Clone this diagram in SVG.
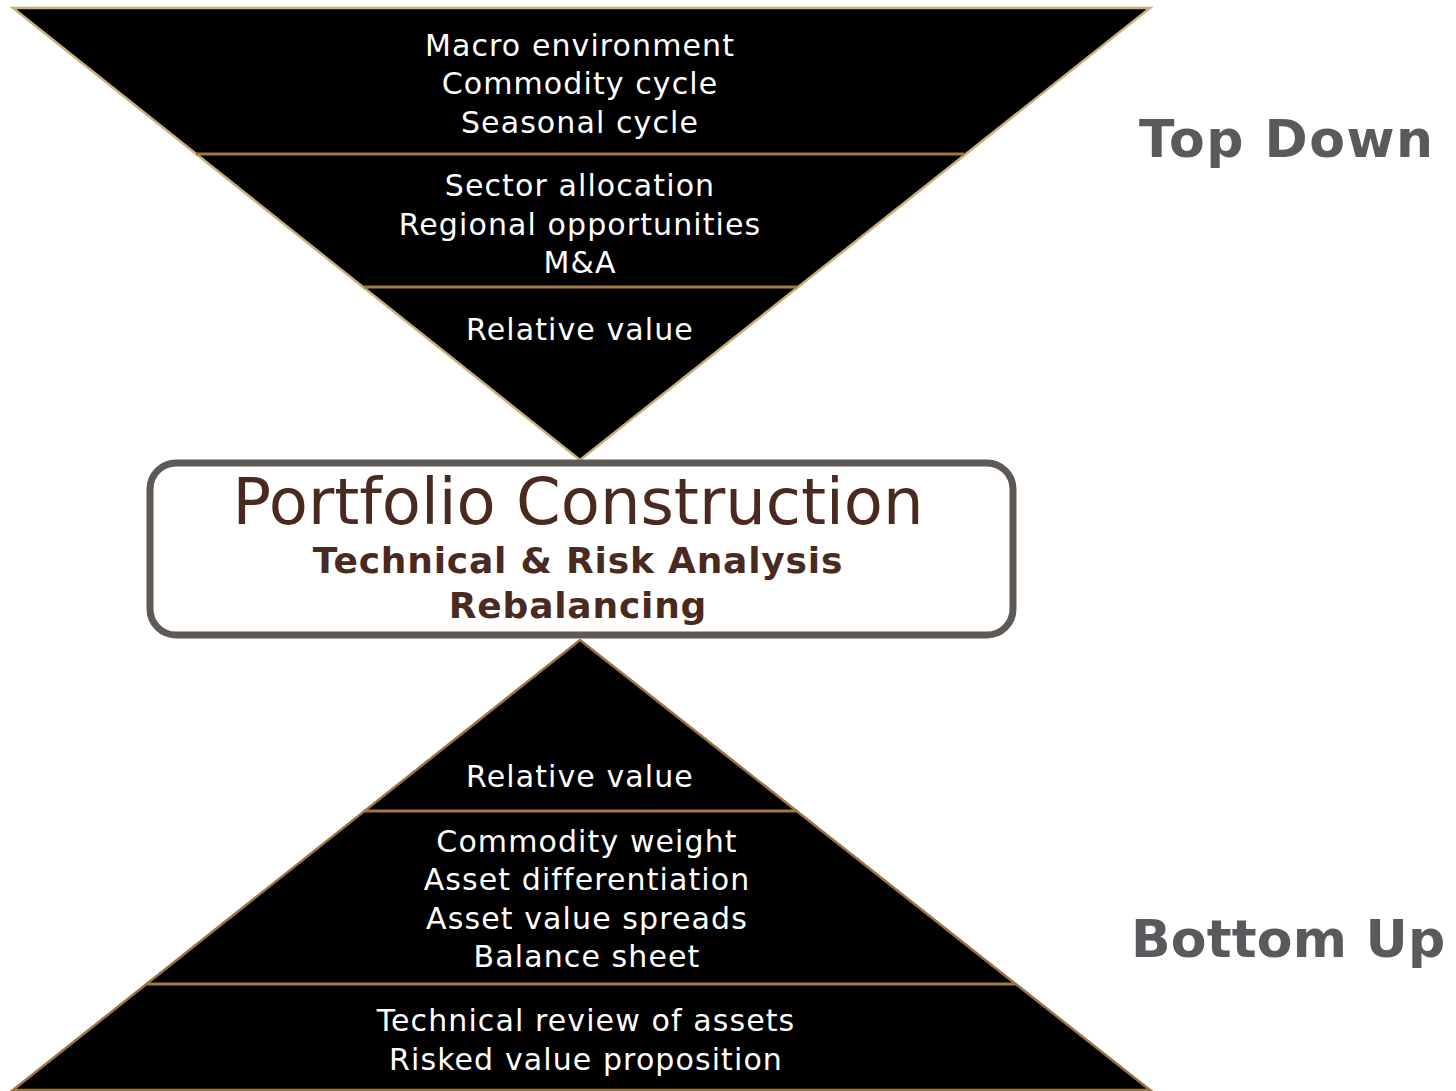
<svg xmlns="http://www.w3.org/2000/svg" width="1456" height="1091" viewBox="0 0 1456 1091">
  <style>
    .tri-top { fill: #000; stroke: #c8b07c; stroke-width: 2.5; }
    .tri-bot { fill: #000; stroke: #9a7442; stroke-width: 2.5; }
    .div { stroke: #a07843; stroke-width: 3; }
    .lbl { font-family: "DejaVu Sans", Verdana, sans-serif; font-size: 30px; fill: #fff; text-anchor: middle; letter-spacing: 1.1px; }
    .side { font-family: "DejaVu Sans", Verdana, sans-serif; font-weight: bold; font-size: 52px; fill: #5a5a5e; }
    .title { font-family: "DejaVu Sans", Verdana, sans-serif; fill: #4a2a1e; text-anchor: middle; }
    .sub { font-size: 36px; font-weight: bold; letter-spacing: 0.8px; }
  </style>

  <rect width="1456" height="1091" fill="#fff"/>

  <!-- inverted funnel: top-down analysis -->
  <g id="top-funnel">
    <polygon class="tri-top" points="13,8 1150,8 580,460"/>
    <line class="div" x1="196" y1="154" x2="964" y2="154"/>
    <line class="div" x1="364" y1="287" x2="797" y2="287"/>
    <text class="lbl" x="580" y="56">Macro environment</text>
    <text class="lbl" x="580" y="94">Commodity cycle</text>
    <text class="lbl" x="580" y="133">Seasonal cycle</text>
    <text class="lbl" x="580" y="196">Sector allocation</text>
    <text class="lbl" x="580" y="235">Regional opportunities</text>
    <text class="lbl" x="580" y="273">M&amp;A</text>
    <text class="lbl" x="580" y="340">Relative value</text>
  </g>

  <!-- central box -->
  <g id="portfolio-construction">
    <rect x="150" y="463" width="863" height="172" rx="26" ry="26" fill="#fff" stroke="#5f5955" stroke-width="7"/>
    <text class="title" x="578" y="524" font-size="64">Portfolio Construction</text>
    <text class="title sub" x="578" y="573">Technical &amp; Risk Analysis</text>
    <text class="title sub" x="578" y="618">Rebalancing</text>
  </g>

  <!-- pyramid: bottom-up analysis -->
  <g id="bottom-pyramid">
    <polygon class="tri-bot" points="580,640 1150,1090 13,1090"/>
    <line class="div" x1="364" y1="811" x2="797" y2="811"/>
    <line class="div" x1="146" y1="984" x2="1015" y2="984"/>
    <text class="lbl" x="580" y="787">Relative value</text>
    <text class="lbl" x="587" y="852">Commodity weight</text>
    <text class="lbl" x="587" y="890">Asset differentiation</text>
    <text class="lbl" x="587" y="929">Asset value spreads</text>
    <text class="lbl" x="587" y="967">Balance sheet</text>
    <text class="lbl" x="586" y="1031">Technical review of assets</text>
    <text class="lbl" x="586" y="1070">Risked value proposition</text>
  </g>

  <g id="side-labels">
    <text class="side" x="1139" y="157" letter-spacing="1.5">Top Down</text>
    <text class="side" x="1131" y="957" letter-spacing="0.2">Bottom Up</text>
  </g>

  <g id="connectors"/>
</svg>
